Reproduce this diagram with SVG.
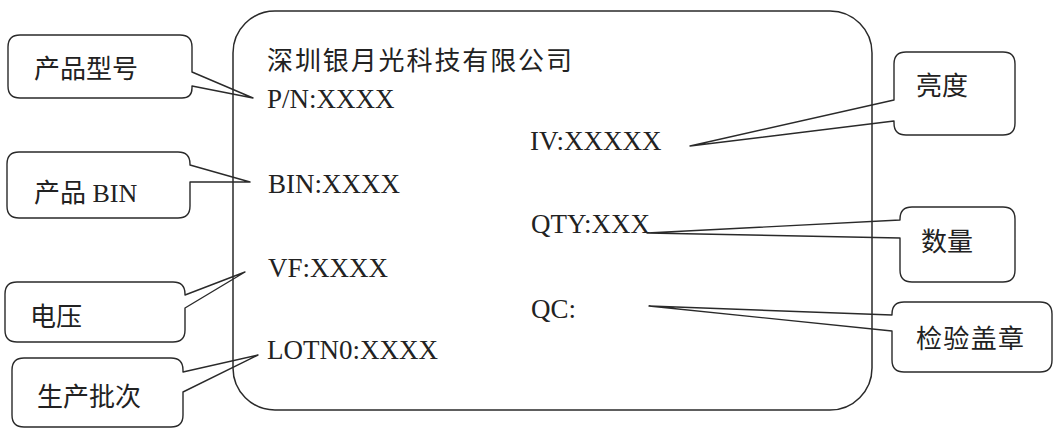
<svg xmlns="http://www.w3.org/2000/svg" width="1055" height="432" viewBox="0 0 1055 432">
<style>
.co{fill:#fff;stroke:#2a2a2a;stroke-width:1.4;stroke-linejoin:round}
.frame{fill:none;stroke:#2a2a2a;stroke-width:1.5}
.cj{font-family:"Liberation Serif","Noto Sans CJK SC",sans-serif;font-size:26px;fill:#222}
.lt{font-family:"Liberation Serif",serif;font-size:27px;fill:#222}
</style>
<rect width="1055" height="432" fill="#fff"/>
<g id="connectors"></g>
<g id="callout-model">
<path class="co" d="M20,35 H180 Q192,35 192,47 V72 L253,98 L192,86 V88 Q192,98 182,98 H20 Q8,98 8,86 V47 Q8,35 20,35 Z"/>
<text class="cj" x="34" y="78">产品型号</text>
</g>
<g id="callout-bin">
<path class="co" d="M19,152 H178 Q190,152 190,164 V165 L250,182 L190,182 V206 Q190,218 178,218 H19 Q7,218 7,206 V164 Q7,152 19,152 Z"/>
<text class="cj" x="34" y="202">产品 BIN</text>
</g>
<g id="callout-vf">
<path class="co" d="M17,282 H173 Q185,282 185,294 V295 L245,272 L185,308 V330 Q185,342 173,342 H17 Q5,342 5,330 V294 Q5,282 17,282 Z"/>
<text class="cj" x="30" y="326">电压</text>
</g>
<g id="callout-lot">
<path class="co" d="M24,358 H171 Q183,358 183,370 V372 L258,355 L183,392 V415 Q183,427 171,427 H24 Q12,427 12,415 V370 Q12,358 24,358 Z"/>
<text class="cj" x="37" y="406">生产批次</text>
</g>
<g id="callout-iv">
<path class="co" d="M906,52 H1003 Q1015,52 1015,64 V123 Q1015,135 1003,135 H906 Q894,135 894,123 V121 L690,146 L894,100 V64 Q894,52 906,52 Z"/>
<text class="cj" x="916" y="95">亮度</text>
</g>
<g id="callout-qty">
<path class="co" d="M912,207 H1003 Q1015,207 1015,219 V270 Q1015,282 1003,282 H912 Q900,282 900,270 V238 L647,233 L900,220 V219 Q900,207 912,207 Z"/>
<text class="cj" x="921" y="251">数量</text>
</g>
<g id="callout-qc">
<path class="co" d="M904,302 H1040 Q1052,302 1052,314 V360 Q1052,372 1040,372 H904 Q892,372 892,360 V331 L649,306 L892,315 V314 Q892,302 904,302 Z"/>
<text class="cj" x="916" y="348" textLength="108">检验盖章</text>
</g>
<g id="label">
<rect class="frame" x="233" y="11" width="639" height="399" rx="42" ry="42"/>
<text class="cj" x="267" y="70" font-size="27" textLength="305">深圳银月光科技有限公司</text>
<text class="lt" x="267" y="108">P/N:XXXX</text>
<text class="lt" x="268" y="193">BIN:XXXX</text>
<text class="lt" x="268" y="277">VF:XXXX</text>
<text class="lt" x="267" y="359">LOTN0:XXXX</text>
<text class="lt" x="530" y="150">IV:XXXXX</text>
<text class="lt" x="531" y="233">QTY:XXX</text>
<text class="lt" x="531" y="318">QC:</text>
</g>
</svg>
